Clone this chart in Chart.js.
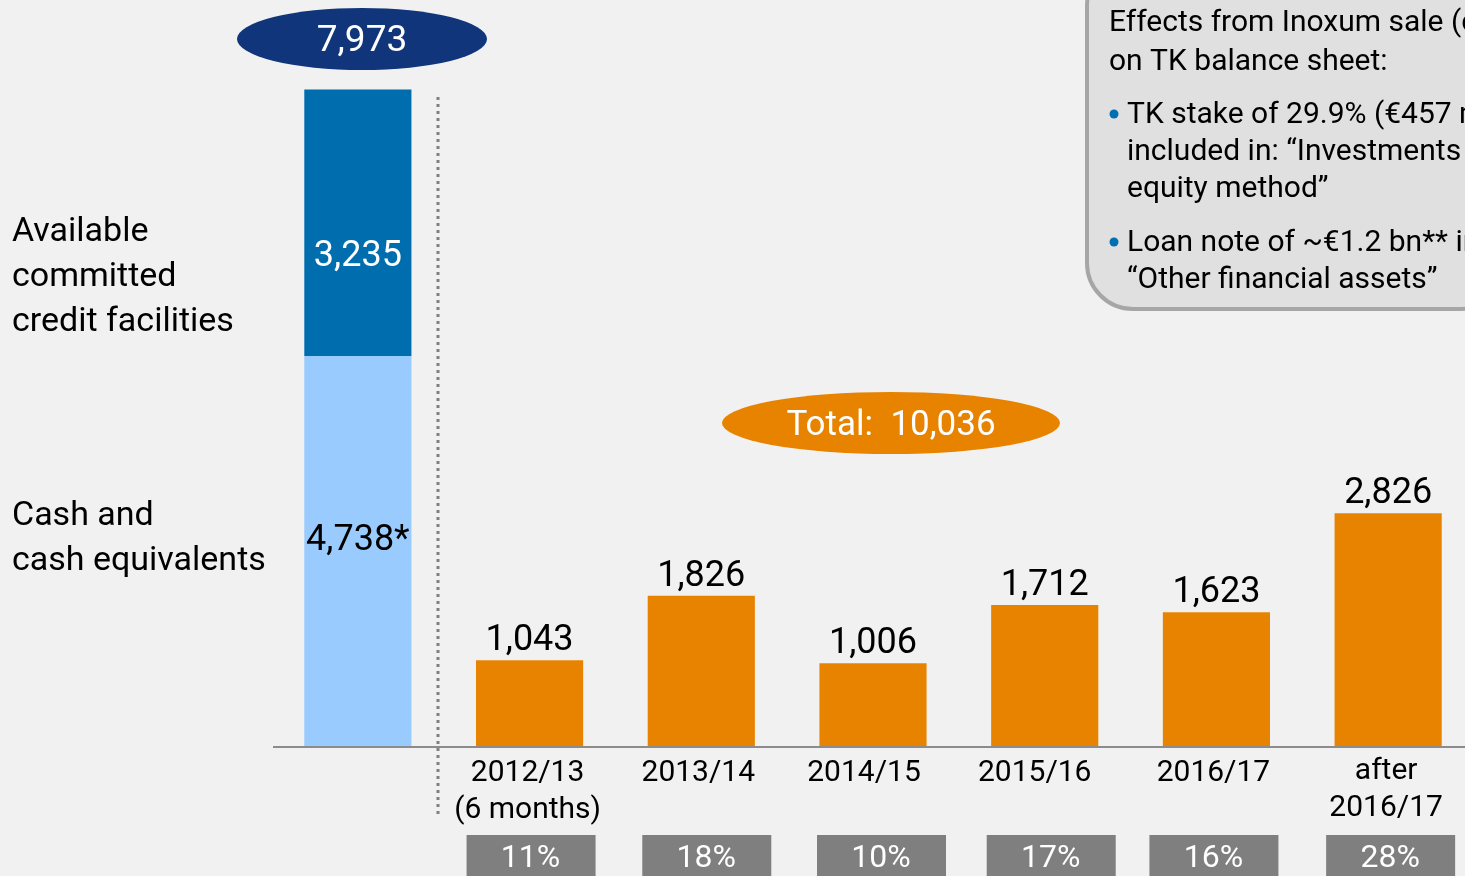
<!DOCTYPE html>
<html>
<head>
<meta charset="utf-8">
<script src="https://cdn.jsdelivr.net/npm/chart.js@4.4.0/dist/chart.umd.min.js"></script>
<style>
  html, body { margin: 0; padding: 0; background: #f1f1f1; overflow: hidden; }
  #wrap { position: relative; width: 1480px; height: 876px; }
</style>
</head>
<body>
<div id="wrap"><canvas id="chart1" width="1480" height="876"></canvas></div>
<script>
// liquidity vs. maturities

const FONT = '"Roboto", "Liberation Sans", sans-serif';

const categories = ["", "2012/13\n(6 months)", "2013/14", "2014/15", "2015/16", "2016/17", "after\n2016/17"];
const cashValues = [4738, null, null, null, null, null, null];
const creditValues = [3235, null, null, null, null, null, null];
const maturityValues = [null, 1043, 1826, 1006, 1712, 1623, 2826];
const maturityShares = ["", "11%", "18%", "10%", "17%", "16%", "28%"];
const liquidityTotal = "7,973";
const maturityTotal = "Total:  10,036";
const cashLabel = "4,738*";
const creditLabel = "3,235";

const sideLabels = {
  credit: ["Available", "committed", "credit facilities"],
  cash: ["Cash and", "cash equivalents"]
};

const noteTitle = ["Effects from Inoxum sale (closing)", "on TK balance sheet:"];
const noteBullets = [
  ["TK stake of 29.9% (€457 million)", "included in: \u201cInvestments accounted for using the", "equity method\u201d"],
  ["Loan note of ~€1.2 bn** in", "\u201cOther financial assets\u201d"]
];

function fmt(v) {
  return v.toLocaleString("en-US");
}

function ellipse(ctx, cx, cy, rx, ry, fill) {
  ctx.beginPath();
  ctx.ellipse(cx, cy, rx, ry, 0, 0, Math.PI * 2);
  ctx.fillStyle = fill;
  ctx.fill();
}

const decorations = {
  id: "decorations",
  beforeDatasetsDraw(chart) {
    const ctx = chart.ctx;
    ctx.save();

    // callout box (top right)
    ctx.beginPath();
    ctx.roundRect(1087, -40, 420, 349, 46);
    ctx.fillStyle = "#e0e0e0";
    ctx.fill();
    ctx.lineWidth = 4;
    ctx.strokeStyle = "#a6a6a6";
    ctx.stroke();

    ctx.fillStyle = "#000";
    ctx.font = "30px " + FONT;
    ctx.textBaseline = "middle";
    ctx.textAlign = "left";
    ctx.fillText(noteTitle[0], 1109, 23);
    ctx.fillText(noteTitle[1], 1109, 62);
    const bulletY = [115, 243];
    noteBullets.forEach((lines, i) => {
      ctx.fillStyle = "#0070b0";
      ctx.beginPath();
      ctx.arc(1114, bulletY[i] - 1, 4.5, 0, Math.PI * 2);
      ctx.fill();
      ctx.fillStyle = "#000";
      lines.forEach((t, j) => ctx.fillText(t, 1127, bulletY[i] + j * 37));
    });

    // dotted separator
    ctx.beginPath();
    ctx.setLineDash([3, 4]);
    ctx.lineWidth = 3;
    ctx.strokeStyle = "#808080";
    ctx.moveTo(438, 97);
    ctx.lineTo(438, 815);
    ctx.stroke();
    ctx.setLineDash([]);
    ctx.restore();
  },
  afterDatasetsDraw(chart) {
    const ctx = chart.ctx;
    const x = chart.scales.x;
    const y = chart.scales.y;
    const base = y.getPixelForValue(0);
    ctx.save();

    // baseline
    ctx.beginPath();
    ctx.lineWidth = 2;
    ctx.strokeStyle = "#8c8c8c";
    ctx.moveTo(273, base + 1);
    ctx.lineTo(1480, base + 1);
    ctx.stroke();

    ctx.textAlign = "center";
    ctx.textBaseline = "middle";

    // values above maturity bars
    ctx.font = "36px " + FONT;
    ctx.fillStyle = "#000";
    maturityValues.forEach((v, i) => {
      if (v == null) return;
      ctx.fillText(fmt(v), x.getPixelForValue(i), y.getPixelForValue(v) - 19);
    });

    // labels inside the liquidity bar
    const cx0 = x.getPixelForValue(0);
    ctx.fillStyle = "#fff";
    ctx.fillText(creditLabel, cx0, y.getPixelForValue(cashValues[0] + creditValues[0] * 0.37));
    ctx.fillStyle = "#000";
    ctx.fillText(cashLabel, cx0, y.getPixelForValue(cashValues[0] * 0.525));

    // category labels
    ctx.font = "30px " + FONT;
    const labelShift = [0, -2, -3, -9, -10, -3, -2];
    categories.forEach((c, i) => {
      if (!c) return;
      const lines = c.split("\n");
      const cx = x.getPixelForValue(i) + labelShift[i];
      const top = lines.length > 1 && i === categories.length - 1 ? base + 25 : base + 27;
      lines.forEach((t, j) => ctx.fillText(t, cx, top + j * 37));
    });

    // share boxes
    ctx.font = "32px " + FONT;
    const boxShift = [0, 1, 5, 8, 6, -3, 2];
    maturityShares.forEach((s, i) => {
      if (!s) return;
      const cx = x.getPixelForValue(i) + boxShift[i];
      ctx.fillStyle = "#7f7f7f";
      ctx.fillRect(cx - 64, 835, 129, 45);
      ctx.fillStyle = "#fff";
      ctx.fillText(s, cx, 859);
    });

    // ellipses
    ctx.font = "37px " + FONT;
    ellipse(ctx, 362, 39, 125, 31, "#10357b");
    ctx.fillStyle = "#fff";
    ctx.fillText(liquidityTotal, 362, 42);
    ctx.font = "35px " + FONT;
    ellipse(ctx, 891, 423, 169, 31, "#e88300");
    ctx.fillStyle = "#fff";
    ctx.fillText(maturityTotal, 891, 426);

    // side labels
    ctx.textAlign = "left";
    ctx.fillStyle = "#000";
    ctx.font = "34px " + FONT;
    sideLabels.credit.forEach((t, j) => ctx.fillText(t, 12, 232 + j * 45));
    sideLabels.cash.forEach((t, j) => ctx.fillText(t, 12, 516 + j * 45));

    ctx.restore();
  }
};

const ctx = document.getElementById("chart1").getContext("2d");
new Chart(ctx, {
  type: "bar",
  data: {
    labels: categories,
    datasets: [
      { label: "Cash and cash equivalents", data: cashValues, backgroundColor: "#99cbff" },
      { label: "Available committed credit facilities", data: creditValues, backgroundColor: "#006eae" },
      { label: "Maturities", data: maturityValues, backgroundColor: "#e88300" }
    ]
  },
  options: {
    responsive: false,
    animation: false,
    layout: { padding: { left: 272, right: 6, top: 5, bottom: 130 } },
    datasets: { bar: { categoryPercentage: 1, barPercentage: 0.624 } },
    scales: {
      x: { stacked: true, display: false },
      y: { stacked: true, display: false, min: 0, max: 9000 }
    },
    plugins: {
      legend: { display: false },
      tooltip: { enabled: false }
    }
  },
  plugins: [decorations]
});
</script>
</body>
</html>
